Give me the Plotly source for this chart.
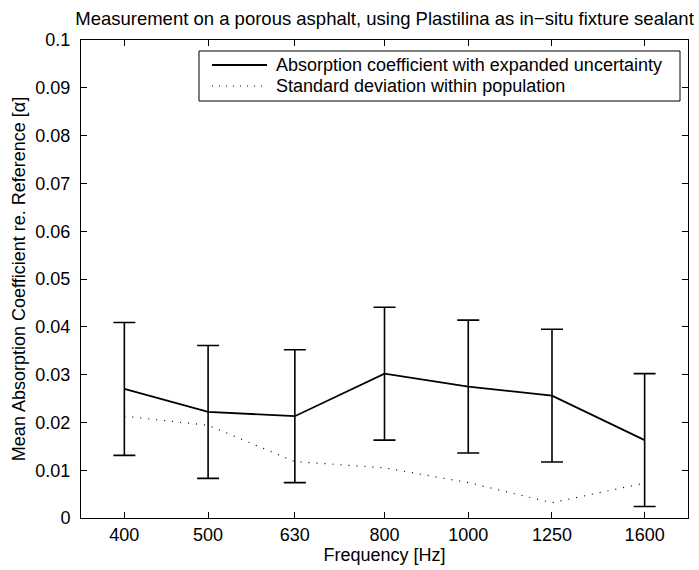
import math
import plotly.graph_objects as go

# ---------------- data ----------------
freqs = [400, 500, 630, 800, 1000, 1250, 1600]
freq_labels = ["400", "500", "630", "800", "1000", "1250", "1600"]
mean_alpha = [0.0270, 0.0222, 0.0213, 0.0302, 0.0275, 0.0256, 0.0163]
expanded_unc = [0.0139, 0.0139, 0.0139, 0.0139, 0.0139, 0.0139, 0.0139]
std_population = [0.0213, 0.0194, 0.0118, 0.0105, 0.0074, 0.0032, 0.0073]
y_ticks = [0, 0.01, 0.02, 0.03, 0.04, 0.05, 0.06, 0.07, 0.08, 0.09, 0.1]
y_tick_labels = ["0", "0.01", "0.02", "0.03", "0.04", "0.05", "0.06", "0.07", "0.08", "0.09", "0.1"]
legend_names = ["Absorption coefficient with expanded uncertainty",
                "Standard deviation within population"]
title_text = "Measurement on a porous asphalt, using Plastilina as in\u2212situ fixture sealant"
x_title = "Frequency [Hz]"
y_title = "Mean Absorption Coefficient re. Reference [\u03b1]"

FONT = "Liberation Sans, Arial, Helvetica, sans-serif"
FS = 18

fig = go.Figure()
fig.add_trace(go.Scatter(
    x=freqs, y=std_population, mode="lines",
    line=dict(color="black", width=1.2, dash="1px,7px"),
    showlegend=False, name=legend_names[1]))
fig.add_trace(go.Scatter(
    x=freqs, y=mean_alpha, mode="lines",
    line=dict(color="black", width=1.8),
    error_y=dict(type="data", array=expanded_unc, visible=True,
                 color="black", thickness=1.6, width=11),
    showlegend=False, name=legend_names[0]))

# layout geometry (pixels)
W, H = 699, 570
L, R, T, B = 81, 11, 40, 52
pw, ph = W - L - R, H - T - B

def px_x(p):
    return (p - L) / pw

def px_y(p):
    return (H - B - p) / ph

# custom MATLAB-style legend
box_l, box_r, box_t, box_b = 199, 680, 51, 101
fig.add_shape(type="rect", xref="paper", yref="paper",
              x0=px_x(box_l), x1=px_x(box_r), y0=px_y(box_b), y1=px_y(box_t),
              line=dict(color="black", width=1), fillcolor="white", layer="above")
rows = [65, 86]
styles = [dict(color="black", width=1.8), dict(color="black", width=1.2, dash="1px,6px")]
for ry, st, nm in zip(rows, styles, legend_names):
    fig.add_shape(type="line", xref="paper", yref="paper",
                  x0=px_x(212), x1=px_x(267), y0=px_y(ry), y1=px_y(ry),
                  line=st, layer="above")
    fig.add_annotation(text=nm, xref="paper", yref="paper",
                       x=px_x(274), y=px_y(ry), xanchor="left", yanchor="middle",
                       showarrow=False, font=dict(family=FONT, size=FS, color="black"))

axis_common = dict(showline=True, linecolor="black", linewidth=1, mirror="ticks",
                   ticks="inside", ticklen=6, tickwidth=1, tickcolor="black",
                   showgrid=False, zeroline=False, automargin=False,
                   tickfont=dict(family=FONT, size=FS, color="black"))

fig.update_xaxes(type="log",
                 range=[math.log10(400 / 2 ** (1 / 6)), math.log10(1600 * 2 ** (1 / 6))],
                 tickvals=freqs, ticktext=freq_labels,
                 ticklabelstandoff=0,
                 title=dict(text=x_title, font=dict(family=FONT, size=FS, color="black"), standoff=3),
                 **axis_common)
fig.update_yaxes(range=[0, 0.1], tickvals=y_ticks, ticktext=y_tick_labels,
                 ticklabelstandoff=6,
                 title=dict(text=y_title, font=dict(family=FONT, size=FS, color="black"), standoff=5),
                 **axis_common)

fig.update_layout(
    width=W, height=H,
    margin=dict(l=L, r=R, t=T, b=B, pad=0, autoexpand=False),
    paper_bgcolor="white", plot_bgcolor="white",
    title=dict(text=title_text, x=0.5, xref="paper", xanchor="center",
               y=1 - 19 / H, yref="container", yanchor="middle",
               font=dict(family=FONT, size=18.5, color="black")),
    font=dict(family=FONT, size=FS, color="black"),
)

fig.write_html("out.html")
